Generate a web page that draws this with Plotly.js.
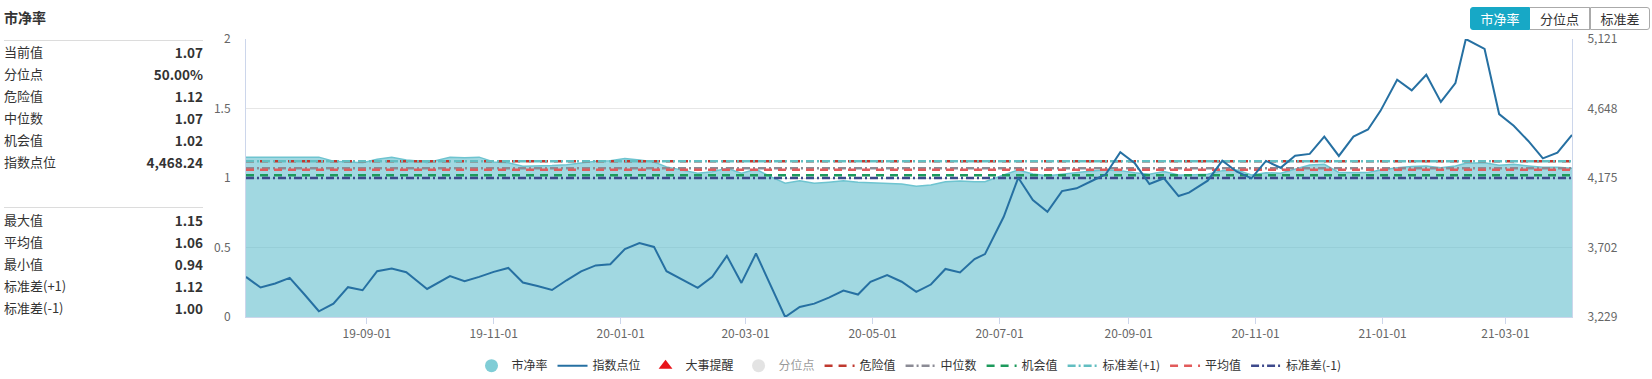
<!DOCTYPE html>
<html>
<head>
<meta charset="utf-8">
<script src="https://cdn.plot.ly/plotly-3.0.1.min.js"></script>
<style>
  html, body { margin:0; padding:0; background:#fff; }
  body { width:1652px; height:379px; overflow:hidden; position:relative;
         font-family:"Noto Sans CJK SC","Noto Sans",sans-serif; color:#333; }
  #chart { position:absolute; left:0; top:0; width:1652px; height:379px; }
  #title { position:absolute; left:4px; top:7px; font-size:14px; font-weight:bold; line-height:20px; color:#333; }
  .sep { position:absolute; left:4px; width:199px; height:0; border-top:1.5px solid #dcdcdc; }
  .row { position:absolute; left:4px; width:199px; height:22px; line-height:22px; font-size:13px; }
  .row .lab { position:absolute; left:0; top:0; color:#333; }
  .row .val { position:absolute; right:0; top:0; font-weight:bold; color:#333; font-size:13.5px; }
  #btns { position:absolute; left:1470px; top:7px; height:22px; display:flex; }
  .btn { height:21px; line-height:21px; font-size:13px; text-align:center; border:1px solid #aaa; background:#fff; color:#333; box-sizing:content-box; }
  .btn.active { background:#17a8c6; border-color:#17a8c6; color:#fff; border-radius:3px 0 0 3px; }
  .btn.last { border-radius:0 3px 3px 0; }
</style>
</head>
<body>
<div id="chart"></div>
<div id="title">市净率</div>
<div id="panel"></div>
<div id="btns"></div>
<script>
// ---------------- data ----------------
const dates = [
  '2019-07-05','2019-07-12','2019-07-19','2019-07-26','2019-08-02','2019-08-09','2019-08-16','2019-08-23','2019-08-30',
  '2019-09-06','2019-09-13','2019-09-20','2019-09-27','2019-09-30','2019-10-11','2019-10-18','2019-10-25',
  '2019-11-01','2019-11-08','2019-11-15','2019-11-22','2019-11-29','2019-12-06','2019-12-13','2019-12-20','2019-12-27',
  '2020-01-03','2020-01-10','2020-01-17','2020-01-23','2020-02-07','2020-02-14','2020-02-21','2020-02-28',
  '2020-03-06','2020-03-13','2020-03-20','2020-03-27','2020-04-03','2020-04-10','2020-04-17','2020-04-24','2020-04-30',
  '2020-05-08','2020-05-15','2020-05-22','2020-05-29','2020-06-05','2020-06-12','2020-06-19','2020-06-24',
  '2020-07-03','2020-07-10','2020-07-17','2020-07-24','2020-07-31','2020-08-07','2020-08-14','2020-08-21','2020-08-28',
  '2020-09-04','2020-09-11','2020-09-18','2020-09-25','2020-09-30','2020-10-09','2020-10-16','2020-10-23','2020-10-30',
  '2020-11-06','2020-11-13','2020-11-20','2020-11-27','2020-12-04','2020-12-11','2020-12-18','2020-12-25','2020-12-31',
  '2021-01-08','2021-01-15','2021-01-22','2021-01-29','2021-02-05','2021-02-10','2021-02-19','2021-02-26',
  '2021-03-05','2021-03-12','2021-03-19','2021-03-26','2021-04-02'
];
const pbValues = [
  1.15,1.15,1.15,1.15,1.15,1.15,1.12,1.115,1.11,
  1.135,1.15,1.13,1.12,1.11,1.15,1.145,1.15,
  1.115,1.11,1.085,1.085,1.09,1.095,1.11,1.12,1.125,
  1.14,1.13,1.115,1.08,1.035,1.045,1.07,1.035,
  1.063,1.01,0.962,0.98,0.962,0.97,0.98,0.97,0.966,
  0.962,0.957,0.94,0.95,0.973,0.978,0.973,0.973,
  1.022,1.058,1.029,1.017,1.027,1.041,1.05,1.058,1.053,
  1.038,1.027,1.046,1.022,1.022,1.027,1.053,1.058,1.022,
  1.038,1.034,1.063,1.094,1.099,1.04,1.04,1.04,1.058,
  1.074,1.082,1.087,1.074,1.087,1.106,1.11,1.091,
  1.099,1.087,1.077,1.077,1.07
];
const indexValues = [
  3502,3430,3457,3495,3384,3268,3320,3432,3411,
  3541,3559,3534,3454,3420,3507,3472,3502,
  3536,3563,3464,3440,3413,3479,3539,3580,3588,
  3691,3732,3706,3541,3427,3502,3645,3461,
  3661,3445,3229,3297,3320,3361,3409,3382,3468,
  3515,3469,3400,3450,3556,3532,3623,3657,
  3911,4177,4025,3945,4086,4105,4153,4200,4350,
  4275,4134,4173,4052,4075,4157,4293,4218,4173,
  4291,4245,4327,4339,4457,4325,4457,4505,4632,
  4844,4771,4878,4693,4821,5121,5053,4610,
  4530,4427,4309,4348,4468.24
];
const refNames  = ['危险值','中位数','机会值','标准差(+1)','平均值','标准差(-1)'];
const refValues = [1.12, 1.07, 1.02, 1.12, 1.06, 1.00];
const xTickVals = ['2019-09-01','2019-11-01','2020-01-01','2020-03-01','2020-05-01','2020-07-01',
                   '2020-09-01','2020-11-01','2021-01-01','2021-03-01'];
const yTickVals = [0, 0.5, 1, 1.5, 2];
const y2TickVals = [3229, 3702, 4175, 4648, 5121];
const panelLabels = ['当前值','分位点','危险值','中位数','机会值','指数点位'];
const panelValues = ['1.07','50.00%','1.12','1.07','1.02','4,468.24'];
const statLabels = ['最大值','平均值','最小值','标准差(+1)','标准差(-1)'];
const statValues = ['1.15','1.06','0.94','1.12','1.00'];
const buttonLabels = ['市净率','分位点','标准差'];

// ---------------- styles ----------------
const refColors = ['#c0392f','#8b8b95','#1d9a5c','#62bec1','#e25b5b','#3e4a8c'];
const refDash   = ['8px,6px','8px,3px,2px,3px','8px,6px','8px,3px,2px,3px','8px,6px','8px,3px,2px,3px'];
const drawOrder = [0,1,4,2,5,3]; // drawing order of reference lines (legend order kept by legendrank)

// ---------------- side panel ----------------
function addSep(top){ const d=document.createElement('div'); d.className='sep'; d.style.top=top+'px'; document.body.appendChild(d); }
function addRow(top, lab, val){
  const r=document.createElement('div'); r.className='row'; r.style.top=top+'px';
  r.innerHTML='<span class="lab"></span><span class="val"></span>';
  r.children[0].textContent=lab; r.children[1].textContent=val;
  document.body.appendChild(r);
}
addSep(40);
panelLabels.forEach((l,i)=>addRow(41 + i*22, l, panelValues[i]));
addSep(207);
statLabels.forEach((l,i)=>addRow(209 + i*22, l, statValues[i]));

const btns = document.getElementById('btns');
const bw = [58, 59, 58];
buttonLabels.forEach((t,i)=>{
  const b=document.createElement('div'); b.className='btn'+(i===0?' active':'')+(i===buttonLabels.length-1?' last':'');
  b.style.width=bw[i]+'px'; if(i===1) b.style.borderLeft='0';
  b.textContent=t; btns.appendChild(b);
});

// ---------------- chart ----------------
const traces = [];
traces.push({
  x: dates, y: pbValues, type:'scatter', mode:'lines', name:'市净率',
  fill:'tozeroy', fillcolor:'rgba(98,190,205,0.6)',
  line:{color:'rgba(110,196,208,1)', width:1.5}, showlegend:false, legendgroup:'pb', yaxis:'y'
});
drawOrder.forEach(i=>{
  traces.push({
    x:[dates[0], dates[dates.length-1]], y:[refValues[i], refValues[i]],
    type:'scatter', mode:'lines', name:refNames[i], legendrank: 5+i,
    line:{color:refColors[i], width:2.5, dash:refDash[i]}, yaxis:'y'
  });
});
traces.push({x:[null], y:[null], type:'scatter', mode:'markers', name:'市净率', legendgroup:'pb', legendrank:1,
  marker:{symbol:'circle', size:13, color:'#80cdd6'}, yaxis:'y'});
traces.push({x:[null], y:[null], type:'scatter', mode:'markers', name:'大事提醒', legendrank:3,
  marker:{symbol:'triangle-up', size:12, color:'#e8141a'}, yaxis:'y'});
traces.push({x:[null], y:[null], type:'scatter', mode:'markers', name:'分位点', legendrank:4, visible:'legendonly',
  marker:{symbol:'circle', size:13, color:'#c8c8c8'}, yaxis:'y'});
traces.push({
  x: dates, y: indexValues, type:'scatter', mode:'lines', name:'指数点位', legendrank:2,
  line:{color:'#2670a2', width:2}, yaxis:'y2'
});

const idxMin = Math.min(...indexValues), idxMax = Math.max(...indexValues);
const axisFont = {family:'"Noto Sans CJK SC","Noto Sans",sans-serif', size:12, color:'#666'};
const layout = {
  width:1652, height:379,
  margin:{l:246, r:80, t:39, b:62, pad:0, autoexpand:false},
  paper_bgcolor:'#fff', plot_bgcolor:'#fff',
  font:{family:'"Noto Sans CJK SC","Noto Sans",sans-serif', size:12, color:'#333'},
  showlegend:true,
  legend:{orientation:'h', x:0.5, xanchor:'center', y:-0.175, yanchor:'middle',
          font:{size:12, color:'#333'}, itemwidth:30, traceorder:'normal', bgcolor:'rgba(0,0,0,0)'},
  hovermode:false,
  xaxis:{type:'date', range:[dates[0], dates[dates.length-1]], tickvals:xTickVals, tickformat:'%y-%m-%d',
         showgrid:false, showline:true, linecolor:'#ccd6eb', linewidth:1, ticks:'outside', ticklen:6,
         tickcolor:'#ccd6eb', tickfont:axisFont, zeroline:false, fixedrange:true, automargin:false},
  yaxis:{range:[0,2], tickvals:yTickVals, showgrid:true, gridcolor:'#e6e6e6', gridwidth:1,
         showline:true, linecolor:'#ccd6eb', zeroline:false, ticks:'', tickfont:axisFont,
         ticklabelstandoff:12, fixedrange:true, automargin:false},
  yaxis2:{overlaying:'y', side:'right', range:[idxMin, idxMax], tickvals:y2TickVals, tickformat:',d',
          showgrid:false, showline:true, linecolor:'#ccd6eb', zeroline:false, ticks:'', tickfont:axisFont,
          ticklabelstandoff:12, fixedrange:true, automargin:false}
};
Plotly.newPlot('chart', traces, layout, {staticPlot:true, displayModeBar:false});
</script>
</body>
</html>
